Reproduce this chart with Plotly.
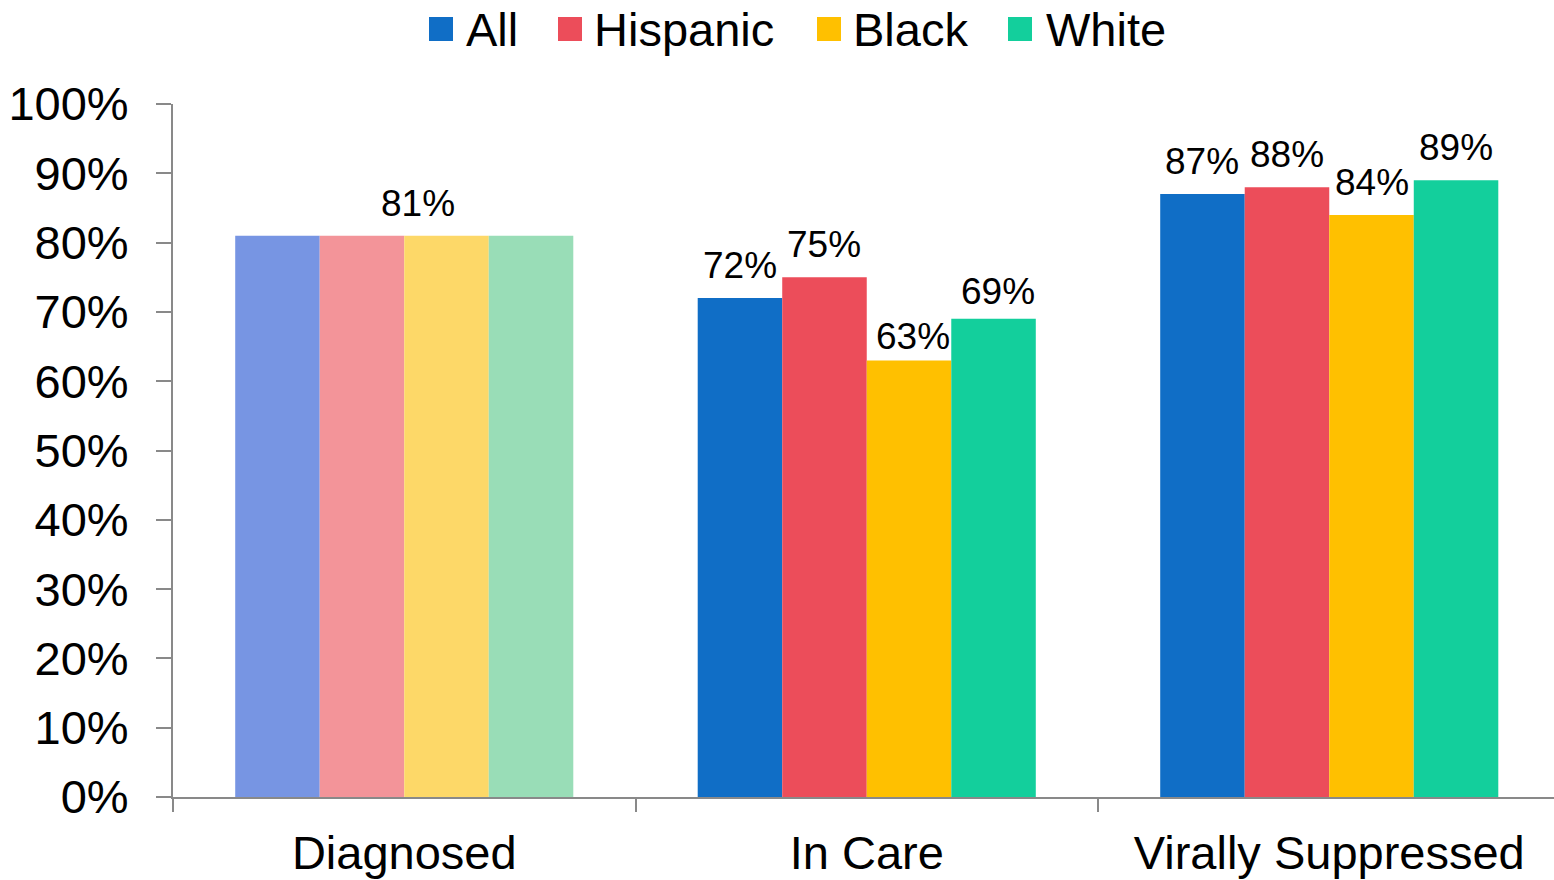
import plotly.graph_objects as go

# HIV care continuum by race/ethnicity
categories = ["Diagnosed", "In Care", "Virally Suppressed"]
series_names = ["All", "Hispanic", "Black", "White"]
values = {
    "All": [81, 72, 87],
    "Hispanic": [81, 75, 88],
    "Black": [81, 63, 84],
    "White": [81, 69, 89],
}
diagnosed_value = 81

# solid colours and the lighter tints used for the shared "Diagnosed" stage
solid = {"All": "#106EC6", "Hispanic": "#EC4D5A", "Black": "#FFC000", "White": "#13CF9C"}
tint = {"All": "#7795E3", "Hispanic": "#F39499", "Black": "#FDD868", "White": "#99DDB7"}

FONT = "Liberation Sans, Arial, sans-serif"
W, H = 1554, 880
ML, MR, MT, MB = 173, 0, 104, 83
plot_w = W - ML - MR
plot_h = H - MT - MB
cat_px = 462.5            # pixel width of one category slot
bargap = 0.269
bar_px = cat_px * (1 - bargap) / len(series_names)
label_font = dict(family=FONT, size=37, color="#000000")

# small nudges (x px, y px) for a couple of value labels
label_nudge = {("Black", "In Care"): (4, -9), ("White", "In Care"): (4, -5)}

fig = go.Figure()
for name in series_names:
    vals = values[name]
    colors = [tint[name]] + [solid[name]] * (len(categories) - 1)
    fig.add_trace(go.Bar(
        name=name,
        x=categories,
        y=vals,
        marker=dict(color=colors, line=dict(width=0)),
        showlegend=False,
        hovertemplate="%{x}: %{y}%<extra>" + name + "</extra>",
    ))

# value labels above each bar of the later stages
for i, name in enumerate(series_names):
    offset = (i - (len(series_names) - 1) / 2) * bar_px
    for cat, v in list(zip(categories, values[name]))[1:]:
        dx, dy = label_nudge.get((name, cat), (0, 0))
        fig.add_annotation(
            x=cat, y=v, text=f"{v}%", showarrow=False,
            yanchor="bottom", xshift=offset + dx, yshift=10 + dy,
            font=label_font,
        )

# single shared label for the Diagnosed stage
fig.add_annotation(
    x=categories[0], y=diagnosed_value, text=f"{diagnosed_value}%",
    showarrow=False, yanchor="bottom", xshift=14, yshift=10,
    font=label_font,
)

# legend row drawn above the plot
legend_sq_left = [429, 558, 817, 1008]
legend_txt_left = [464, 592, 851, 1044]
sq = 24
sq_top = 17
for name, sx, tx in zip(series_names, legend_sq_left, legend_txt_left):
    fig.add_shape(
        type="rect", xref="paper", yref="paper",
        x0=(sx - ML) / plot_w, x1=(sx + sq - ML) / plot_w,
        y0=(H - MB - (sq_top + sq)) / plot_h, y1=(H - MB - sq_top) / plot_h,
        fillcolor=solid[name], line=dict(width=0),
    )
    fig.add_annotation(
        xref="paper", yref="paper",
        x=(tx - ML) / plot_w, y=(H - MB - 29) / plot_h,
        xanchor="left", yanchor="middle", showarrow=False,
        text=name, font=dict(family=FONT, size=47, color="#000000"),
    )

axis_color = "#898989"
fig.update_layout(
    width=W, height=H,
    margin=dict(l=ML, r=MR, t=MT, b=MB),
    paper_bgcolor="white", plot_bgcolor="white",
    barmode="group", bargap=bargap, bargroupgap=0,
    showlegend=False,
    font=dict(family=FONT, color="#000000"),
    xaxis=dict(
        range=[-0.5, -0.5 + plot_w / cat_px],
        showline=True, linecolor=axis_color, linewidth=2,
        ticks="outside", tickson="boundaries", ticklen=13, tickwidth=2, tickcolor=axis_color,
        tickfont=dict(family=FONT, size=47, color="#000000"),
        ticklabelstandoff=14,
        showgrid=False, zeroline=False,
    ),
    yaxis=dict(
        range=[0, 100], dtick=10, ticksuffix="%",
        showline=True, linecolor=axis_color, linewidth=2,
        ticks="outside", ticklen=15, tickwidth=2, tickcolor=axis_color,
        tickfont=dict(family=FONT, size=47, color="#000000"),
        ticklabelstandoff=18,
        showgrid=False, zeroline=False,
    ),
)

fig.write_html("out.html")
